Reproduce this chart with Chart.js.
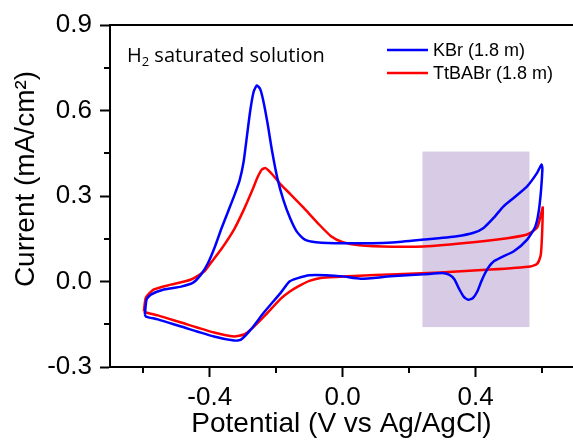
<!DOCTYPE html>
<html>
<head>
<meta charset="utf-8">
<script src="https://cdn.jsdelivr.net/npm/chart.js@4"></script>
<style>
  html, body { margin: 0; padding: 0; background: #fff; }
  #cv { display: block; }
</style>
</head>
<body>
<canvas id="cv" width="573" height="441"></canvas>
<script>
// KBr (1.8 m), potential (V) and current (mA/cm2), one closed CV loop
const kbrV = [-0.595, -0.590, -0.577, -0.538, -0.486, -0.450, -0.426, -0.405, -0.385, -0.365,
  -0.345, -0.325, -0.310, -0.298, -0.288, -0.278, -0.268, -0.258, -0.248, -0.238,
  -0.226, -0.212, -0.196, -0.178, -0.158, -0.138, -0.115, -0.080, 0.000, 0.150,
  0.244, 0.344, 0.394, 0.424, 0.454, 0.484, 0.515, 0.555, 0.585, 0.598,
  0.601, 0.592, 0.580, 0.555, 0.515, 0.474, 0.455, 0.440, 0.428, 0.417,
  0.405, 0.392, 0.378, 0.364, 0.350, 0.336, 0.320, 0.300, 0.243, 0.144,
  0.054, 0.000, -0.050, -0.100, -0.135, -0.160, -0.186, -0.237, -0.276, -0.306,
  -0.327, -0.387, -0.486, -0.556, -0.592, -0.595];
const kbrI = [-0.116, -0.063, -0.046, -0.028, -0.018, -0.004, 0.025, 0.065, 0.120, 0.185,
  0.245, 0.305, 0.355, 0.420, 0.510, 0.600, 0.665, 0.688, 0.675, 0.630,
  0.555, 0.455, 0.360, 0.285, 0.222, 0.175, 0.148, 0.138, 0.134, 0.137,
  0.147, 0.159, 0.171, 0.188, 0.223, 0.264, 0.294, 0.334, 0.381, 0.410,
  0.395, 0.264, 0.194, 0.147, 0.106, 0.083, 0.071, 0.052, 0.028, 0.000,
  -0.035, -0.058, -0.064, -0.053, -0.025, 0.008, 0.024, 0.030, 0.025, 0.018,
  0.010, 0.018, 0.022, 0.022, 0.012, 0.000, -0.039, -0.109, -0.168, -0.204,
  -0.207, -0.193, -0.158, -0.133, -0.123, -0.116];

// TtBABr (1.8 m)
const tbaV = [-0.598, -0.592, -0.568, -0.517, -0.456, -0.417, -0.395, -0.366, -0.327, -0.297,
  -0.272, -0.256, -0.243, -0.232, -0.218, -0.200, -0.186, -0.156, -0.117, -0.075,
  -0.036, 0.000, 0.050, 0.150, 0.243, 0.393, 0.495, 0.555, 0.585, 0.598,
  0.602, 0.601, 0.598, 0.595, 0.585, 0.565, 0.444, 0.294, 0.144, 0.050,
  -0.020, -0.066, -0.100, -0.135, -0.160, -0.186, -0.237, -0.276, -0.297, -0.327,
  -0.387, -0.486, -0.556, -0.592, -0.598];
const tbaI = [-0.105, -0.056, -0.028, -0.011, 0.007, 0.035, 0.068, 0.112, 0.182, 0.253,
  0.320, 0.366, 0.393, 0.398, 0.384, 0.360, 0.340, 0.305, 0.258, 0.205,
  0.160, 0.138, 0.127, 0.122, 0.123, 0.138, 0.152, 0.165, 0.189, 0.242,
  0.260, 0.200, 0.120, 0.088, 0.062, 0.053, 0.042, 0.032, 0.025, 0.020,
  0.016, 0.012, 0.002, -0.018, -0.036, -0.060, -0.123, -0.168, -0.186, -0.193,
  -0.179, -0.144, -0.119, -0.109, -0.105];

const seriesNames = ["KBr (1.8 m)", "TtBABr (1.8 m)"];
const xMajor = [-0.4, 0.0, 0.4];
const xMinor = [-0.6, -0.2, 0.2, 0.6];
const yMajor = [-0.3, 0.0, 0.3, 0.6, 0.9];
const yMinor = [-0.15, 0.15, 0.45, 0.75];
// shaded region (V, mA/cm2)
const boxV = [0.24, 0.562];
const boxI = [-0.16, 0.456];

const toPts = (xs, ys) => xs.map((x, i) => ({ x: x, y: ys[i] }));

const AXIS_FONT = "'Liberation Sans', Arial, sans-serif";

// box, frame top line, minor ticks, y title, note and legend
const extras = {
  id: "extras",
  beforeDatasetsDraw(chart) {
    const { ctx, scales: { x, y } } = chart;
    ctx.save();
    ctx.fillStyle = "rgb(216,203,229)";
    const x0 = x.getPixelForValue(boxV[0]), x1 = x.getPixelForValue(boxV[1]);
    const y0 = y.getPixelForValue(boxI[1]), y1 = y.getPixelForValue(boxI[0]);
    ctx.fillRect(x0, y0, x1 - x0, y1 - y0);
    ctx.restore();
  },
  afterDraw(chart) {
    const { ctx, chartArea: a, scales: { x, y } } = chart;
    ctx.save();
    ctx.strokeStyle = "#000";
    ctx.lineWidth = 2;
    ctx.beginPath();
    ctx.moveTo(a.left - 1, a.top);
    ctx.lineTo(a.right, a.top);
    // minor ticks
    xMinor.forEach(v => {
      const px = Math.round(x.getPixelForValue(v));
      ctx.moveTo(px, a.bottom);
      ctx.lineTo(px, a.bottom + 6);
    });
    yMinor.forEach(v => {
      const py = Math.round(y.getPixelForValue(v));
      ctx.moveTo(a.left, py);
      ctx.lineTo(a.left - 6, py);
    });
    ctx.stroke();

    // y axis title
    ctx.fillStyle = "#000";
    ctx.font = "28px " + AXIS_FONT;
    ctx.textAlign = "center";
    ctx.textBaseline = "middle";
    ctx.save();
    ctx.translate(26, 179);
    ctx.rotate(-Math.PI / 2);
    ctx.fillText("Current (mA/cm²)", 0, 0);
    ctx.restore();

    // note
    ctx.textAlign = "left";
    ctx.textBaseline = "alphabetic";
    ctx.font = "20px 'Open Sans', sans-serif";
    ctx.fillText("H", 127, 62);
    let w = ctx.measureText("H").width;
    ctx.font = "13px 'Open Sans', sans-serif";
    ctx.fillText("2", 127 + w, 66);
    w += ctx.measureText("2").width;
    ctx.font = "20px 'Open Sans', sans-serif";
    ctx.fillText(" saturated solution", 127 + w, 62);

    // legend
    ctx.font = "18px " + AXIS_FONT;
    ctx.textBaseline = "middle";
    chart.data.datasets.forEach((ds, i) => {
      const ly = 50 + i * 23;
      ctx.strokeStyle = ds.borderColor;
      ctx.lineWidth = 2.5;
      ctx.beginPath();
      ctx.moveTo(387, ly);
      ctx.lineTo(428, ly);
      ctx.stroke();
      ctx.fillText(ds.label, 433, ly + 1);
    });
    ctx.restore();
  }
};

new Chart(document.getElementById("cv"), {
  type: "scatter",
  data: {
    datasets: [
      {
        label: seriesNames[0],
        data: toPts(kbrV, kbrI),
        showLine: true,
        borderColor: "rgb(0,0,255)",
        borderWidth: 2.5,
        pointRadius: 0,
        tension: 0.2,
        fill: false
      },
      {
        label: seriesNames[1],
        data: toPts(tbaV, tbaI),
        showLine: true,
        borderColor: "rgb(255,0,0)",
        borderWidth: 2.5,
        pointRadius: 0,
        tension: 0.2,
        fill: false
      }
    ]
  },
  options: {
    responsive: false,
    animation: false,
    layout: { padding: { top: 25, left: 0, right: 0, bottom: 0 } },
    plugins: {
      legend: { display: false },
      tooltip: { enabled: false }
    },
    scales: {
      x: {
        type: "linear",
        min: -0.7,
        max: 0.693,
        afterBuildTicks: s => { s.ticks = xMajor.map(v => ({ value: v })); },
        afterFit: s => { s.height = 74; },
        ticks: {
          color: "#000",
          font: { family: AXIS_FONT, size: 26 },
          padding: 5,
          maxRotation: 0,
          callback: v => v.toFixed(1)
        },
        grid: {
          drawOnChartArea: false,
          drawTicks: true,
          tickLength: 10,
          tickWidth: 2,
          tickColor: "#000"
        },
        border: { display: true, color: "#000", width: 2 },
        title: {
          display: true,
          text: "Potential (V vs Ag/AgCl)",
          color: "#000",
          font: { family: AXIS_FONT, size: 28 },
          padding: { top: 0, bottom: 0 }
        }
      },
      y: {
        type: "linear",
        min: -0.3,
        max: 0.9,
        afterBuildTicks: s => { s.ticks = yMajor.map(v => ({ value: v })); },
        afterFit: s => { s.width = 110; },
        ticks: {
          color: "#000",
          font: { family: AXIS_FONT, size: 26 },
          padding: 8,
          callback: v => v.toFixed(1)
        },
        grid: {
          drawOnChartArea: false,
          drawTicks: true,
          tickLength: 10,
          tickWidth: 2,
          tickColor: "#000"
        },
        border: { display: true, color: "#000", width: 2 }
      }
    }
  },
  plugins: [extras]
});
</script>
</body>
</html>
